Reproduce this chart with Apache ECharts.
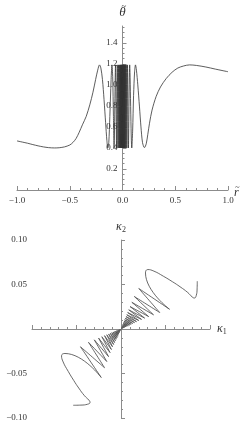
<!DOCTYPE html>
<html><head><meta charset="utf-8">
<script src="https://cdn.jsdelivr.net/npm/echarts@6/dist/echarts.min.js"></script>
<style>html,body{margin:0;padding:0;background:#fff}#c{width:249px;height:424px}</style>
</head><body><div id="c"></div>
<script>
// ---- top panel: theta~ vs r~ ----
const rTilde = [-1.00,-0.95,-0.90,-0.85,-0.80,-0.75,-0.70,-0.645,-0.60,-0.55,-0.50,-0.47,-0.44,-0.41,-0.38,-0.344,-0.31,-0.28,-0.255,-0.235,-0.218,-0.205,-0.19,-0.175,-0.16,-0.148,-0.139,-0.130,-0.120,-0.108,-0.100,-0.093,-0.086,-0.080,
 -0.066,-0.056,-0.049,-0.043,-0.038,-0.034,-0.030,-0.027,-0.024,-0.0215,-0.019,-0.017,-0.015,-0.013,-0.0115,-0.010,-0.0085,-0.007,-0.0055,-0.004,-0.0025,-0.001,
 0.000,
 0.001,0.0025,0.004,0.0055,0.007,0.0085,0.010,0.0115,0.013,0.0145,0.0165,0.0185,0.0205,0.023,0.0255,0.0285,0.032,0.036,0.041,0.047,0.056,0.068,0.088,
 0.096,0.105,0.115,0.123,0.132,0.145,0.161,0.175,0.190,0.208,0.225,0.240,0.256,0.280,0.319,0.360,0.414,0.470,0.524,0.580,0.635,0.700,0.790,0.880,1.000];
const thetaTilde = [0.467,0.456,0.445,0.432,0.420,0.410,0.403,0.400,0.402,0.410,0.428,0.452,0.490,0.550,0.620,0.700,0.810,0.930,1.050,1.140,1.190,1.160,1.050,0.860,0.640,0.470,0.400,0.450,0.700,1.050,1.190,1.080,0.700,0.400,
 1.19,0.40,1.19,0.40,1.19,0.40,1.19,0.40,1.19,0.40,1.19,0.40,1.19,0.40,1.19,0.40,1.19,0.40,1.19,0.40,1.19,0.40,
 1.19,
 0.40,1.19,0.40,1.19,0.40,1.19,0.40,1.19,0.40,1.19,0.40,1.19,0.40,1.19,0.40,1.19,0.40,1.19,0.40,1.19,0.40,1.19,0.40,
 0.560,0.900,1.130,1.190,1.140,1.000,0.790,0.600,0.450,0.403,0.440,0.530,0.635,0.760,0.890,0.980,1.060,1.120,1.160,1.180,1.190,1.185,1.170,1.150,1.125];
const topYLabels = [0.2,0.4,0.6,0.8,1.0,1.2,1.4];
const topYMinor = [0.05,0.1,0.15,0.25,0.3,0.35,0.45,0.5,0.55,0.65,0.7,0.75,0.85,0.9,0.95,1.05,1.1,1.15,1.25,1.3,1.35,1.45,1.5,1.55];

// ---- bottom panel: kappa2 vs kappa1 ----
const kappa1 = [-0.0537,-0.0450,-0.0375,-0.0348,-0.0360,-0.0410,-0.0475,-0.0530,-0.0593,-0.0650,-0.0668,-0.0630,
 -0.0222,-0.0455,-0.0185,-0.0365,-0.0160,-0.0300,-0.0140,-0.0252,-0.0123,-0.0215,-0.0108,-0.0185,-0.0095,-0.0160,-0.0083,-0.0139,-0.0072,-0.0120,-0.0062,-0.0103,-0.0053,-0.0088,-0.0045,-0.0074,-0.0038,-0.0061,-0.0032,-0.0049,-0.0026,-0.0038,-0.0020,-0.0028,-0.0015,-0.0018,-0.0009,
 0,
 0.0020,0.0007,0.0032,0.0011,0.0044,0.0015,0.0056,0.0019,0.0069,0.0024,0.0083,0.0029,0.0098,0.0035,0.0114,0.0041,0.0132,0.0048,0.0152,0.0056,0.0174,0.0065,0.0200,0.0075,0.0230,0.0087,0.0265,0.0102,0.0310,0.0122,0.0365,0.0150,0.0435,0.0200,0.0545,
 0.0275,0.0300,0.0370,0.0476,0.0580,0.0663,0.0750,0.0800,0.0825,0.0845,0.0855,0.0857];
const kappa2 = [-0.0857,-0.0855,-0.0845,-0.0825,-0.0800,-0.0750,-0.0663,-0.0580,-0.0476,-0.0370,-0.0300,-0.0275,
 -0.0545,-0.0200,-0.0435,-0.0150,-0.0365,-0.0122,-0.0310,-0.0102,-0.0265,-0.0087,-0.0230,-0.0075,-0.0200,-0.0065,-0.0174,-0.0056,-0.0152,-0.0048,-0.0132,-0.0041,-0.0114,-0.0035,-0.0098,-0.0029,-0.0083,-0.0024,-0.0069,-0.0019,-0.0056,-0.0015,-0.0044,-0.0011,-0.0032,-0.0007,-0.0020,
 0,
 0.0009,0.0018,0.0015,0.0028,0.0020,0.0038,0.0026,0.0049,0.0032,0.0061,0.0038,0.0074,0.0045,0.0088,0.0053,0.0103,0.0062,0.0120,0.0072,0.0139,0.0083,0.0160,0.0095,0.0185,0.0108,0.0215,0.0123,0.0252,0.0140,0.0300,0.0160,0.0365,0.0185,0.0455,0.0222,
 0.0630,0.0668,0.0650,0.0593,0.0530,0.0475,0.0410,0.0360,0.0348,0.0375,0.0450,0.0537];

const thetaData = rTilde.map((r,i)=>[r, thetaTilde[i]]);
const kappaData = kappa1.map((k,i)=>[k, kappa2[i]]);

const FONT = 'Liberation Serif';
const AX = '#8c8c8c';
const LBL = '#333';
const minus = s => s.replace('-', '\u2212');
const fmt1 = v => minus(Number(v).toFixed(1));
const fmt2 = v => Math.abs(v) < 1e-9 ? '' : minus(Number(v).toFixed(2));

const TOP = {left: 17, right: 21, top: 26, bottom: 234};
const W = 249, TOP_W = W - TOP.left - TOP.right;
const Y_OFF = -TOP_W / 2; // put the theta axis at r = 0

const axisBase = {
  axisLine: {show: true, onZero: true, lineStyle: {color: AX, width: 1}},
  axisTick: {show: true, inside: true, length: 4, lineStyle: {color: AX}},
  minorTick: {show: true, splitNumber: 5, length: 2, lineStyle: {color: AX}},
  splitLine: {show: false},
  minorSplitLine: {show: false},
  nameMoveOverlap: false
};
const lblBase = {color: LBL, fontFamily: FONT, fontSize: 9, margin: 5};
const kRich = {
  k: {fontFamily: FONT, fontStyle: 'italic', fontSize: 12, color: LBL, lineHeight: 14, verticalAlign: 'middle'},
  s: {fontFamily: FONT, fontSize: 8, color: LBL, lineHeight: 8, verticalAlign: 'bottom'}
};

const chart = echarts.init(document.getElementById('c'), null, {renderer: 'canvas'});
chart.setOption({
  animation: false,
  backgroundColor: '#fff',
  grid: [
    Object.assign({outerBoundsMode: 'none'}, TOP),
    {left: 32, right: 39, top: 240, bottom: 6, outerBoundsMode: 'none'}
  ],
  xAxis: [
    Object.assign({}, axisBase, {
      type: 'value', gridIndex: 0, min: -1, max: 1, interval: 0.5,
      axisLabel: Object.assign({}, lblBase, {formatter: fmt1, margin: 6}),
      name: 'r', nameLocation: 'end', nameGap: 6,
      nameTextStyle: {fontFamily: FONT, fontStyle: 'italic', fontSize: 12, color: LBL, verticalAlign: 'top', padding: [-3,0,0,0]}
    }),
    Object.assign({}, axisBase, {
      type: 'value', gridIndex: 1, min: -0.1, max: 0.1, interval: 0.05,
      axisLabel: Object.assign({}, lblBase, {formatter: fmt2}),
      name: '{k|\u03BA}{s|1}', nameLocation: 'end', nameGap: 7,
      nameTextStyle: {verticalAlign: 'middle', rich: kRich}
    })
  ],
  yAxis: [
    Object.assign({}, axisBase, {
      type: 'value', gridIndex: 0, position: 'left', offset: Y_OFF, min: 0, max: 1.56,
      axisLine: {show: true, onZero: false, lineStyle: {color: AX, width: 1}},
      axisTick: {show: true, inside: true, length: 4, lineStyle: {color: AX}, customValues: topYLabels},
      minorTick: {show: false},
      axisLabel: Object.assign({}, lblBase, {formatter: fmt1, customValues: topYLabels}),
      name: '\u03B8', nameLocation: 'end', nameGap: 7,
      nameTextStyle: {fontFamily: FONT, fontStyle: 'italic', fontSize: 13, color: LBL}
    }),
    Object.assign({}, axisBase, {
      type: 'value', gridIndex: 1, min: -0.1, max: 0.1, interval: 0.05,
      axisLabel: Object.assign({}, lblBase, {formatter: fmt2}),
      name: '{k|\u03BA}{s|2}', nameLocation: 'end', nameGap: 6,
      nameTextStyle: {rich: kRich}
    }),
    Object.assign({}, axisBase, {
      type: 'value', gridIndex: 0, position: 'left', offset: Y_OFF, min: 0, max: 1.56,
      axisLine: {show: false, onZero: false},
      axisTick: {show: true, inside: true, length: 2, lineStyle: {color: AX}, customValues: topYMinor},
      minorTick: {show: false},
      axisLabel: {show: false}
    })
  ],
  series: [
    {type: 'line', xAxisIndex: 0, yAxisIndex: 0, data: thetaData, smooth: 0.3, showSymbol: false,
     lineStyle: {color: '#333', width: 0.8}, silent: true},
    {type: 'line', xAxisIndex: 1, yAxisIndex: 1, data: kappaData, smooth: 0.5, showSymbol: false,
     lineStyle: {color: '#444', width: 0.8}, silent: true}
  ]
});

// tildes over the axis-name letters (theta~ and r~)
const pTop = chart.convertToPixel({xAxisIndex: 0, yAxisIndex: 0}, [0, 1.56]);
const pEnd = chart.convertToPixel({xAxisIndex: 0, yAxisIndex: 0}, [1, 0]);
chart.setOption({
  graphic: [
    {type: 'text', x: pTop[0] + 1.5, y: pTop[1] - 19, silent: true,
     style: {text: '~', fill: LBL, font: '9px "Liberation Serif"', align: 'center', verticalAlign: 'middle'}},
    {type: 'text', x: pEnd[0] + 9.5, y: pEnd[1] - 2.5, silent: true,
     style: {text: '~', fill: LBL, font: '8px "Liberation Serif"', align: 'center', verticalAlign: 'middle'}}
  ]
});
</script></body></html>
